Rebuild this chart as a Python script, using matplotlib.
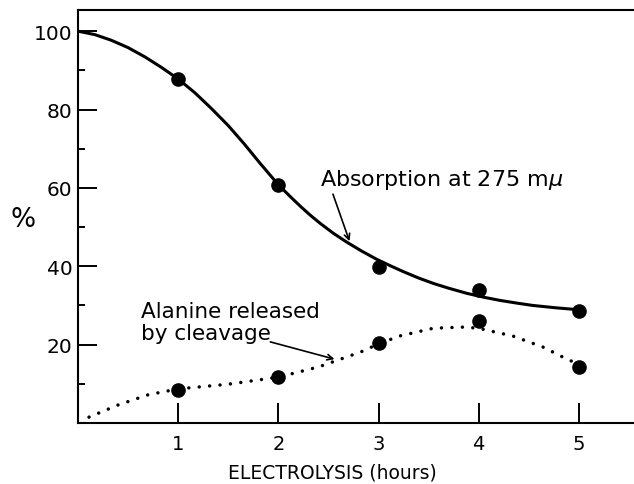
import matplotlib
matplotlib.use("Agg")
import matplotlib.pyplot as plt
from matplotlib.ticker import MultipleLocator

# measured data points
hours = [1, 2, 3, 4, 5]
absorption = [87.8, 60.8, 39.8, 33.9, 28.6]
alanine = [8.4, 11.7, 20.4, 26.0, 14.3]

# hand-drawn curves
abs_curve_x = [0.0, 0.17, 0.33, 0.5, 0.67, 0.83, 1.0, 1.17, 1.33, 1.5, 1.66, 1.82,
               2.0, 2.11, 2.22, 2.32, 2.42, 2.55, 2.68, 2.83, 2.98, 3.12, 3.25,
               3.4, 3.55, 3.7, 3.88, 4.05, 4.21, 4.38, 4.54, 4.77, 5.0]
abs_curve_y = [100.0, 99.1, 97.7, 95.8, 93.4, 90.8, 87.8, 84.2, 80.3, 75.9, 71.2, 66.2,
               60.8, 58.0, 55.3, 53.0, 50.9, 48.4, 46.2, 43.9, 41.8, 40.1, 38.6,
               37.0, 35.6, 34.4, 33.1, 32.1, 31.3, 30.6, 30.0, 29.4, 28.9]
ala_curve_x = [0.11, 0.4, 0.7, 1.0, 1.5, 2.0, 2.4, 2.82, 3.0, 3.21, 3.55, 3.88,
               4.03, 4.34, 4.64, 4.88, 5.0]
ala_curve_y = [1.5, 4.6, 7.2, 8.7, 9.9, 11.7, 14.3, 18.1, 20.2, 22.2, 24.2, 24.5,
               24.0, 22.2, 19.4, 16.3, 15.0]

x_ticks = [1, 2, 3, 4, 5]
y_ticks = [20, 40, 60, 80, 100]

plt.rcParams['font.family'] = ['DejaVu Sans']

fig = plt.figure(figsize=(6.34, 4.85), dpi=100)
ax = fig.add_axes([78/634, 1 - 424/485, (634 - 78)/634, (424 - 11)/485])

ax.plot(abs_curve_x, abs_curve_y, color='black', lw=2.2, solid_capstyle='round',
        solid_joinstyle='round', zorder=2)
ax.plot(ala_curve_x, ala_curve_y, color='black', lw=2.5, linestyle=(0, (0.01, 3.0)),
        dash_capstyle='round', zorder=2)
ax.plot(hours, absorption, 'o', color='black', ms=9.5, zorder=3)
ax.plot(hours, alanine, 'o', color='black', ms=9.5, zorder=3)

ax.set_xlim(0, 5.55)
ax.set_ylim(0, 105.4)
ax.set_xticks(x_ticks)
ax.set_xticklabels([str(t) for t in x_ticks])
ax.set_yticks(y_ticks)
ax.set_yticklabels([str(t) for t in y_ticks])
ax.yaxis.set_minor_locator(MultipleLocator(10))

ax.spines['right'].set_visible(False)
for s in ['left', 'bottom', 'top']:
    ax.spines[s].set_linewidth(1.5)

ax.tick_params(axis='x', which='major', direction='in', length=14.5, width=1.4,
               labelsize=14, pad=8)
ax.tick_params(axis='y', which='major', direction='in', length=13.5, width=1.4,
               labelsize=14.5, pad=4)
ax.tick_params(axis='y', which='minor', direction='in', length=5, width=1.4)

ax.set_xlabel('ELECTROLYSIS (hours)', fontsize=13.5)
ax.xaxis.set_label_coords(0.457, -0.118)
ax.xaxis.label.set_va('center')
ax.set_ylabel('%', fontsize=19, rotation=0)
ax.yaxis.set_label_coords(-0.098, 0.494)
ax.yaxis.label.set_va('center')
ax.yaxis.label.set_ha('center')

ax.text(2.415, 62.2, 'Absorption at 275 m$\\mu$', fontsize=16, ha='left', va='center')
ax.annotate('', xy=(2.71, 46.4), xytext=(2.545, 58.4),
            arrowprops=dict(arrowstyle='->', color='black', lw=1.2,
                            shrinkA=0, shrinkB=0))
ax.text(0.63, 25.8, 'Alanine released\nby cleavage', fontsize=15.5, ha='left',
        va='center', linespacing=1.1)
ax.annotate('', xy=(2.56, 16.3), xytext=(1.92, 20.7),
            arrowprops=dict(arrowstyle='->', color='black', lw=1.2,
                            shrinkA=0, shrinkB=0))

fig.savefig('out.png', dpi=100)
